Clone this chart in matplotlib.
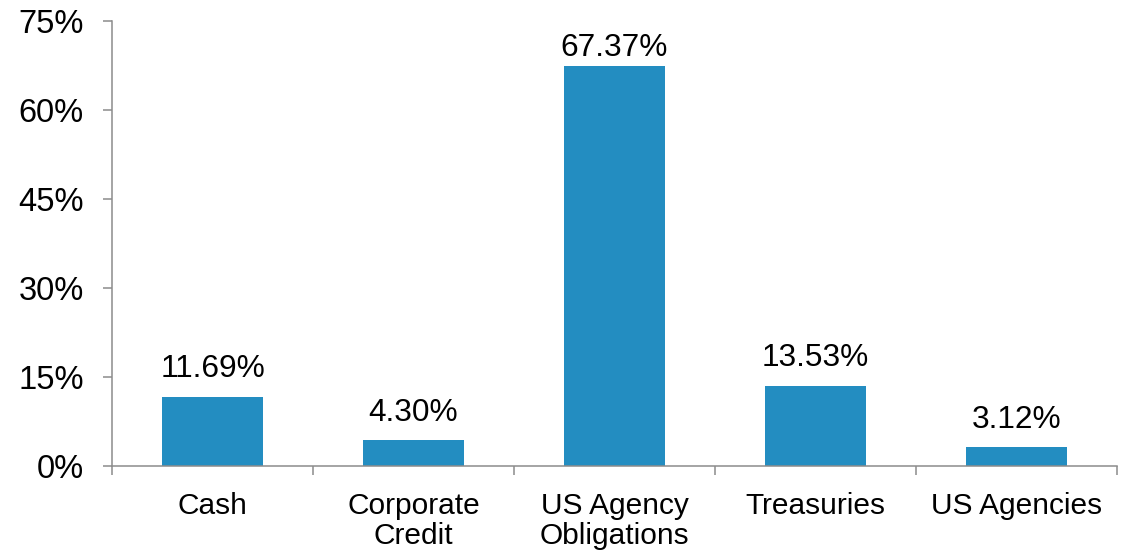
import numpy as np
import matplotlib.pyplot as plt
import matplotlib as mpl

mpl.rcParams['font.family'] = ['Liberation Sans', 'DejaVu Sans']

categories = ["Cash", "Corporate\nCredit", "US Agency\nObligations", "Treasuries", "US Agencies"]
values = [11.69, 4.30, 67.37, 13.53, 3.12]
yticks = [0, 15, 30, 45, 60, 75]

bar_color = "#238DC1"
axis_color = "#8C8C8C"

fig = plt.figure(figsize=(11.27, 5.52), dpi=100, facecolor="white")
ax = fig.add_axes([0.0994, 0.1558, 0.8916, 0.8062])

x = np.arange(len(categories))
bars = ax.bar(x, values, width=0.5, color=bar_color, zorder=2)

for xi, v in zip(x, values):
    # tall bar: label is squeezed closer so it stays inside the plot
    pad = 9 if v < 60 else 2.5
    ax.annotate("%.2f%%" % v, (xi, v), xytext=(0, pad), textcoords="offset points",
                ha="center", va="bottom", fontsize=22.8)

ax.set_xlim(-0.5, len(categories) - 0.5)
ax.set_ylim(0, 75)

ax.set_yticks(yticks)
ax.set_yticklabels(["%d%%" % t for t in yticks], fontsize=23.5)
ax.tick_params(axis="y", direction="out", length=6.5, width=1.1, color=axis_color, pad=14)

# category boundaries get the tick marks, centres get the labels
ax.set_xticks(np.arange(len(categories) + 1) - 0.5)
ax.set_xticklabels([])
ax.set_xticks(x, minor=True)
ax.set_xticklabels(categories, minor=True, fontsize=21.5, linespacing=1.1, va="top")
ax.tick_params(axis="x", which="major", direction="out", length=6.5, width=1.1, color=axis_color)
ax.tick_params(axis="x", which="minor", length=0, pad=18.5)

for side in ["top", "right"]:
    ax.spines[side].set_visible(False)
for side in ["left", "bottom"]:
    ax.spines[side].set_color(axis_color)
    ax.spines[side].set_linewidth(1.1)

plt.savefig("out.png", dpi=100, facecolor="white")
